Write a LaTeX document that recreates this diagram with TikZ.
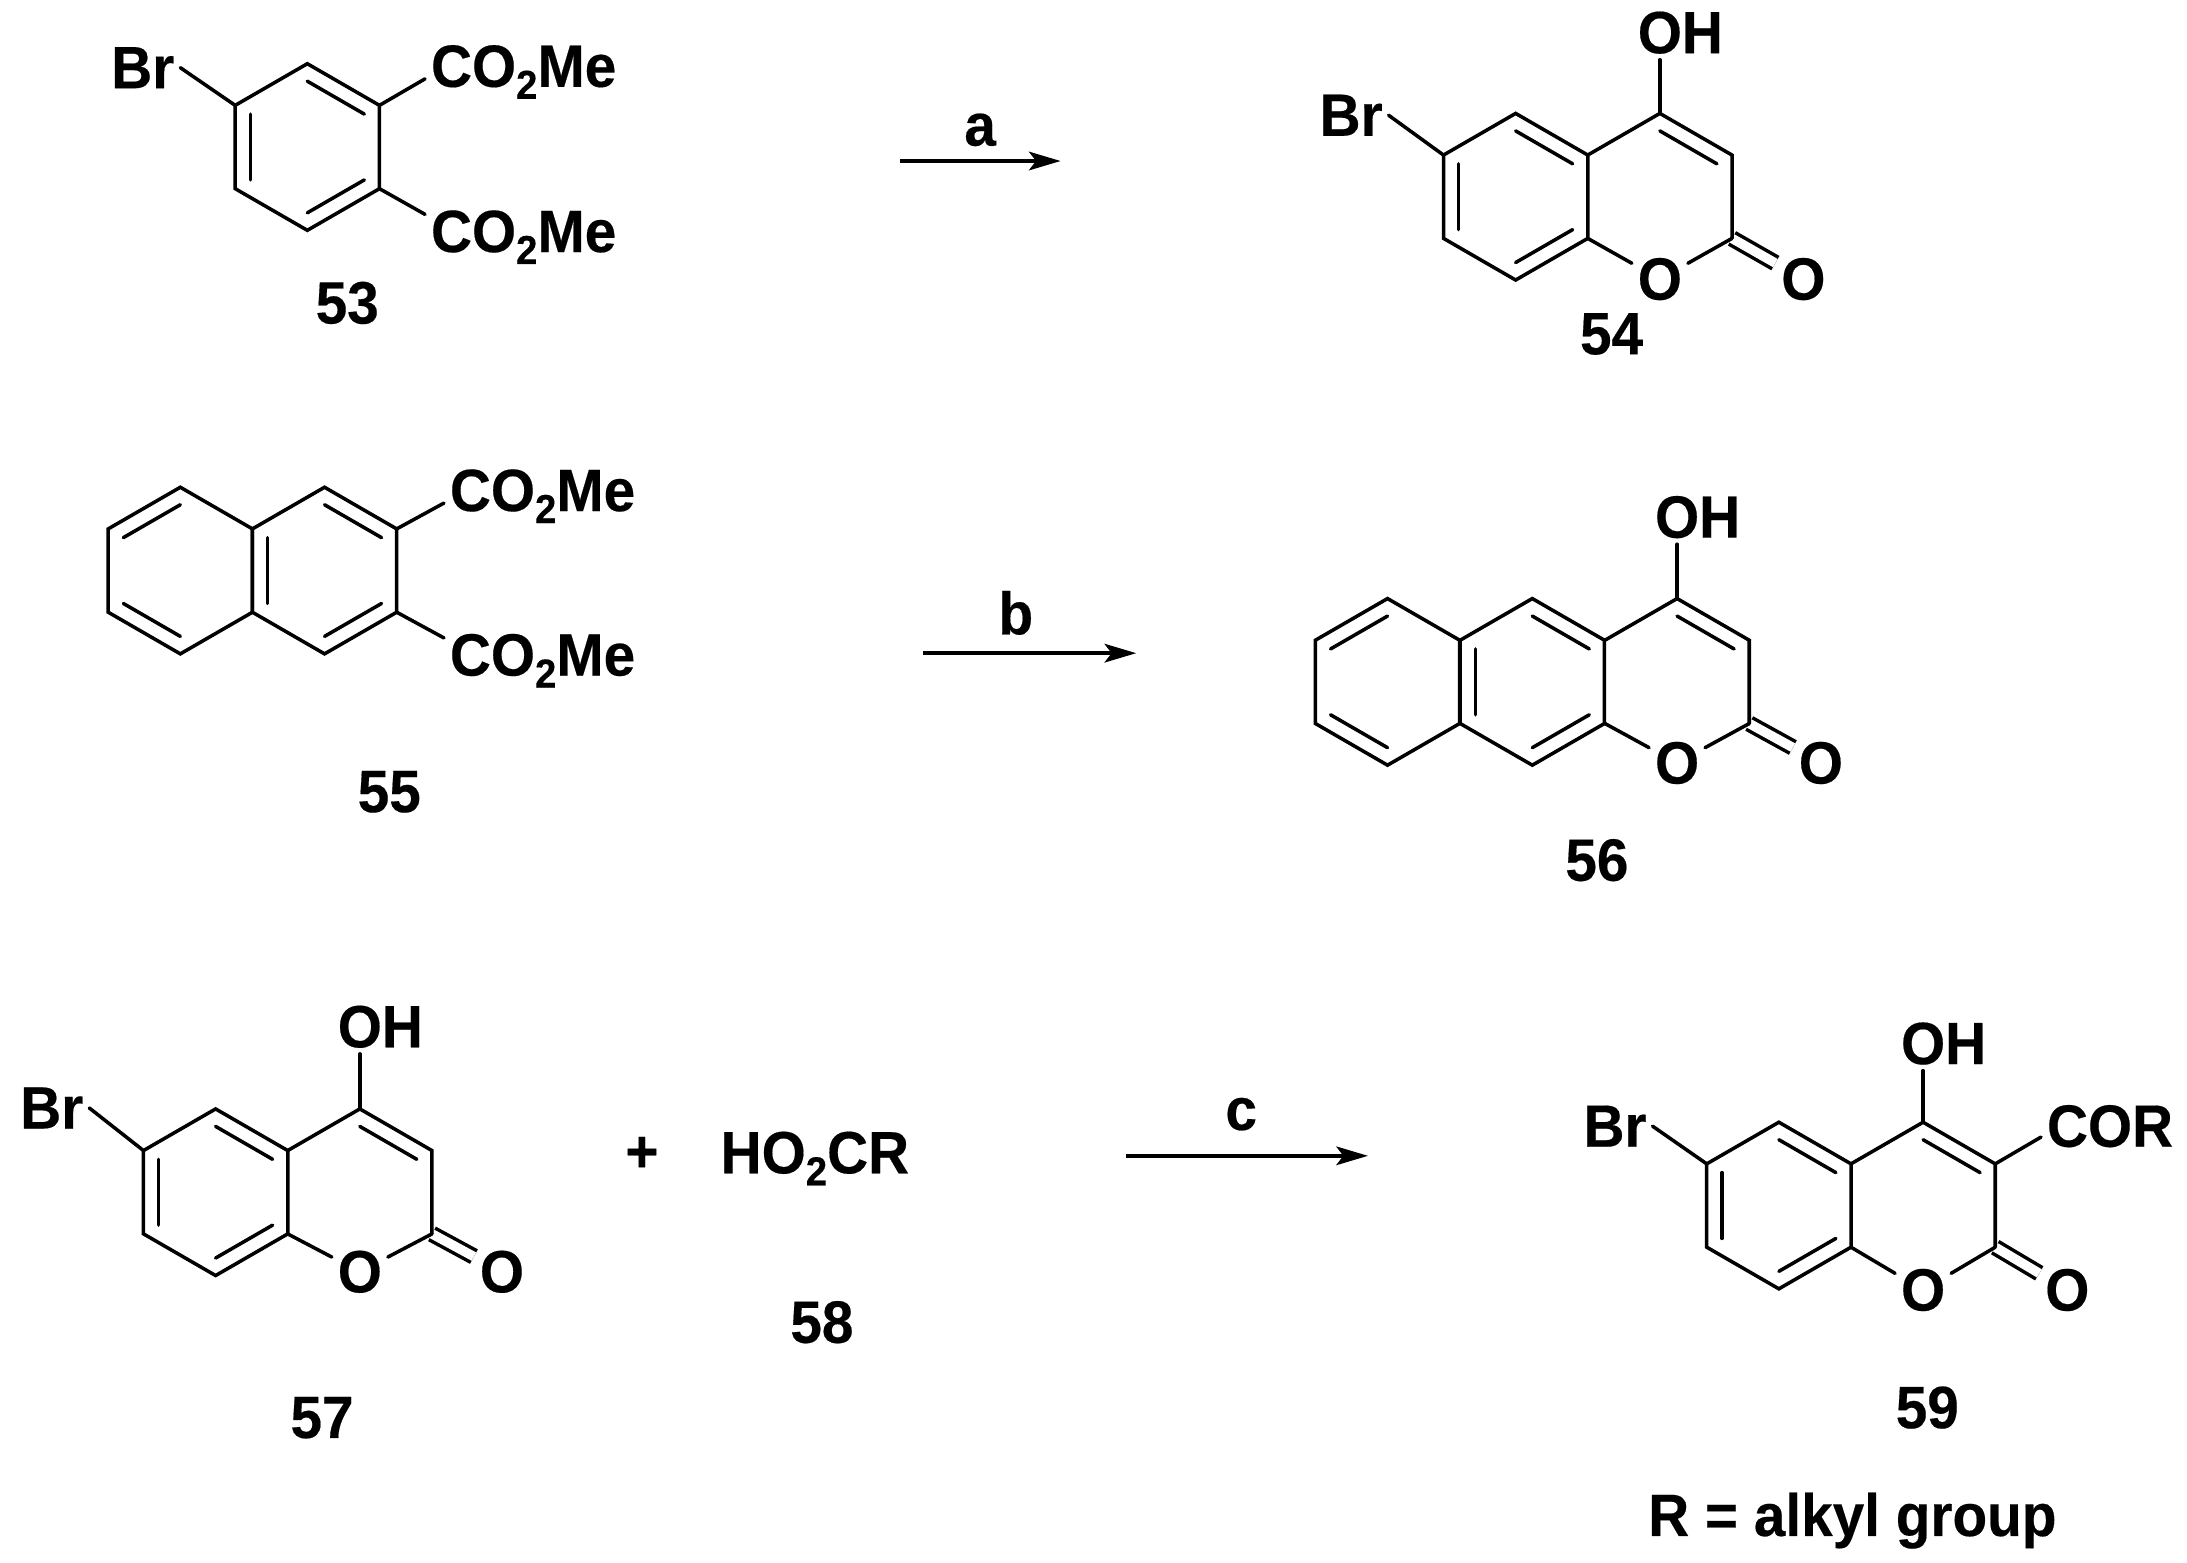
\documentclass[tikz,border=0pt]{standalone}
\usepackage{fontspec}
\setmainfont{Liberation Sans}[FakeStretch=0.95,FakeBold=0.3]
\usetikzlibrary{arrows.meta,positioning,calc}

\newcommand{\subtwo}{\raisebox{-3.4pt}{\fontsize{11.5}{11.5}\selectfont 2}}
\newcommand{\hexpts}[2]{%
    \coordinate (#1c) at (#2);
    \foreach \i in {1,...,6} {\coordinate (#1-\i) at ($(#1c)+({210+60*\i}:59.5)$);}
}
\newcommand{\innerbond}[3]{\draw[bond] ($(#1)!.21!(#3)$) -- ($(#2)!.21!(#3)$);}
\newcommand{\fullring}[1]{\draw[bond] (#1-1) -- (#1-2) -- (#1-3) -- (#1-4) -- (#1-5) -- (#1-6) -- cycle;}
\newcommand{\lactone}[3]{%
    \draw[carbonyl] (#1-3) -- (#3);
    \draw[bond] (#1-6) -- (#1-1) -- (#1-2) -- (#1-3);
    \draw[bond] (#1-5) -- (#2);
    \draw[bond] (#1-3) -- (#2);
}

\tikzset{
    bond/.style={line width=1pt, line cap=round},
    carbonyl/.style={line width=1pt, double, double distance=2.7pt},
    atomlbl/.style={font=\fontsize{17}{19}\selectfont\bfseries, inner sep=1.5pt, anchor=base},
    rxnarrow/.style={line width=1pt, -{Stealth[length=9pt,width=5.3pt,inset=2pt]}},
}

\begin{document}
\begin{tikzpicture}[x=0.014cm, y=-0.014cm]
    \useasboundingbox (0,0) rectangle (1562,1115.71);

    \hexpts{ring53}{219.5,105}
    \node[atomlbl] (br53) at (102,63) {Br};
    \node[atomlbl] (est53a) at (374,62) {CO\subtwo Me};
    \node[atomlbl] (est53b) at (374,180) {CO\subtwo Me};
    \node[atomlbl] (num53) at (248,231) {53};
    \fullring{ring53}
    \innerbond{ring53-1}{ring53-2}{ring53c}
    \innerbond{ring53-3}{ring53-4}{ring53c}
    \innerbond{ring53-5}{ring53-6}{ring53c}
    \draw[bond] (ring53-6) -- (br53.east);
    \draw[bond] (ring53-2) -- (est53a.184);
    \draw[bond] (ring53-3) -- (est53b.167);

    \hexpts{benz54}{1082.5,140.5}
    \hexpts{pyr54}{1185.5,140.5}
    \node[atomlbl] (br54) at (965,97) {Br};
    \node[atomlbl] (oh54) at (1185.5,38) {O\rlap{H}};
    \node[atomlbl] (o54) at (1185.5,214) {O};
    \node[atomlbl] (oxo54) at (1288,214) {O};
    \node[atomlbl] (num54) at (1151,253) {54};
    \lactone{pyr54}{o54}{oxo54}
    \fullring{benz54}
    \innerbond{benz54-1}{benz54-2}{benz54c}
    \innerbond{benz54-3}{benz54-4}{benz54c}
    \innerbond{benz54-5}{benz54-6}{benz54c}
    \innerbond{pyr54-1}{pyr54-2}{pyr54c}
    \draw[bond] (benz54-6) -- (br54.east);
    \draw[bond] (pyr54-1) -- (oh54);

    \hexpts{left55}{128.8,407.5}
    \hexpts{right55}{231.8,407.5}
    \node[atomlbl] (est55a) at (387.5,365) {CO\subtwo Me};
    \node[atomlbl] (est55b) at (387.5,482.5) {CO\subtwo Me};
    \node[atomlbl] (num55) at (278,580) {55};
    \fullring{left55}
    \fullring{right55}
    \innerbond{left55-6}{left55-1}{left55c}
    \innerbond{left55-4}{left55-5}{left55c}
    \innerbond{right55-5}{right55-6}{right55c}
    \innerbond{right55-1}{right55-2}{right55c}
    \innerbond{right55-3}{right55-4}{right55c}
    \draw[bond] (right55-2) -- (est55a.184);
    \draw[bond] (right55-3) -- (est55b.167);

    \hexpts{left56}{991,487}
    \hexpts{mid56}{1094.4,487}
    \hexpts{pyr56}{1197.8,487}
    \node[atomlbl] (oh56) at (1197.8,384) {O\rlap{H}};
    \node[atomlbl] (o56) at (1197.8,559.6) {O};
    \node[atomlbl] (oxo56) at (1300.5,559.6) {O};
    \node[atomlbl] (num56) at (1140.5,629) {56};
    \lactone{pyr56}{o56}{oxo56}
    \fullring{left56}
    \fullring{mid56}
    \innerbond{left56-6}{left56-1}{left56c}
    \innerbond{left56-4}{left56-5}{left56c}
    \innerbond{mid56-5}{mid56-6}{mid56c}
    \innerbond{mid56-1}{mid56-2}{mid56c}
    \innerbond{mid56-3}{mid56-4}{mid56c}
    \innerbond{pyr56-1}{pyr56-2}{pyr56c}
    \draw[bond] (pyr56-1) -- (oh56);

    \hexpts{benz57}{154,851.5}
    \hexpts{pyr57}{257,851.5}
    \node[atomlbl] (br57) at (37,806) {Br};
    \node[atomlbl] (oh57) at (257,748) {O\rlap{H}};
    \node[atomlbl] (o57) at (257,923) {O};
    \node[atomlbl] (oxo57) at (358.5,923) {O};
    \node[atomlbl] (num57) at (230,1027) {57};
    \lactone{pyr57}{o57}{oxo57}
    \fullring{benz57}
    \innerbond{benz57-1}{benz57-2}{benz57c}
    \innerbond{benz57-3}{benz57-4}{benz57c}
    \innerbond{benz57-5}{benz57-6}{benz57c}
    \innerbond{pyr57-1}{pyr57-2}{pyr57c}
    \draw[bond] (benz57-6) -- (br57.east);
    \draw[bond] (pyr57-1) -- (oh57);

    \node[atomlbl] (plus) at (458.5,837) {+};
    \node[atomlbl] (acid58) at (582,838) {HO\subtwo CR};
    \node[atomlbl] (num58) at (587,959) {58};

    \hexpts{benz59}{1270.5,861}
    \hexpts{pyr59}{1373.5,861}
    \node[atomlbl] (br59) at (1153.5,819) {Br};
    \node[atomlbl] (oh59) at (1373.5,760) {O\rlap{H}};
    \node[atomlbl] (cor59) at (1507,819) {COR};
    \node[atomlbl] (o59) at (1373.5,936) {O};
    \node[atomlbl] (oxo59) at (1476.5,936) {O};
    \node[atomlbl] (num59) at (1376.5,1020) {59};
    \node[atomlbl] (rgroup) at (1323,1097) {R = alkyl group};
    \lactone{pyr59}{o59}{oxo59}
    \fullring{benz59}
    \innerbond{benz59-1}{benz59-2}{benz59c}
    \innerbond{benz59-3}{benz59-4}{benz59c}
    \innerbond{benz59-5}{benz59-6}{benz59c}
    \innerbond{pyr59-1}{pyr59-2}{pyr59c}
    \draw[bond] (benz59-6) -- (br59.east);
    \draw[bond] (pyr59-1) -- (oh59);
    \draw[bond] (pyr59-2) -- (cor59.189);

    \coordinate (a1) at (642.5,115);
    \coordinate (a2) at (757.5,115);
    \coordinate (b1) at (659.5,466.5);
    \coordinate (b2) at (811.5,466.5);
    \coordinate (c1) at (804,825.5);
    \coordinate (c2) at (977,825.5);
    \draw[rxnarrow] (a1) -- (a2);
    \draw[rxnarrow] (b1) -- (b2);
    \draw[rxnarrow] (c1) -- (c2);
    \node[atomlbl] (lbla) at (700,104) {a};
    \node[atomlbl] (lblb) at (725.5,453) {b};
    \node[atomlbl] (lblc) at (886.5,807) {c};
\end{tikzpicture}
\end{document}
